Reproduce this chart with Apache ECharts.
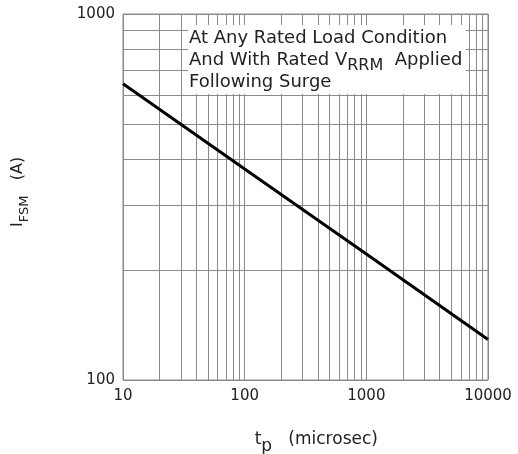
<!DOCTYPE html>
<html>
<head>
<meta charset="utf-8">
<script src="https://cdn.jsdelivr.net/npm/echarts@6/dist/echarts.min.js"></script>
<style>
  html, body { margin: 0; padding: 0; background: #fff; }
  #chart { width: 518px; height: 454px; }
</style>
</head>
<body>
<div id="chart"></div>
<script>
// pulse width (microsec) and peak surge current (A)
var tp = [10, 100, 1000, 10000];
var ifsm = [645, 377, 221, 129];
// log grid lines between the decades
var minorX = [20, 30, 40, 50, 60, 70, 80, 90, 200, 300, 400, 500, 600, 700, 800, 900, 2000, 3000, 4000, 5000, 6000, 7000, 8000, 9000];
var minorY = [200, 300, 400, 500, 600, 700, 800, 900];
var noteLines = ['At Any Rated Load Condition', 'And With Rated V', 'RRM', 'Applied', 'Following Surge'];

var gridColor = '#8a8a8a';
var font = 'DejaVu Sans';

var myChart = echarts.init(document.getElementById('chart'));

var gridMarks = [];
minorX.forEach(function (v) { gridMarks.push({ xAxis: v }); });
minorY.forEach(function (v) { gridMarks.push({ yAxis: v }); });

var option = {
  animation: false,
  grid: {
    left: 123, right: 30, top: 14, bottom: 74,
    outerBoundsMode: 'none',
    show: true, borderColor: gridColor, borderWidth: 1
  },
  xAxis: {
    type: 'log', logBase: 10, min: 10, max: 10000,
    name: '    {a|t}{b|p}   {a|(microsec)}',
    nameLocation: 'middle', nameGap: 44,
    nameTextStyle: {
      fontSize: 17, fontFamily: font,
      rich: {
        a: { fontFamily: font, fontSize: 17, color: '#222' },
        b: { fontFamily: font, fontSize: 17, color: '#222', padding: [14, 0, 0, 0] }
      }
    },
    axisLine: { show: false },
    axisTick: { show: false },
    axisLabel: { fontFamily: font, fontSize: 15, color: '#222', margin: 9, formatter: function (v) { return String(v); } },
    splitLine: { show: true, lineStyle: { color: gridColor, width: 1 } }
  },
  yAxis: {
    type: 'log', logBase: 10, min: 100, max: 1000,
    name: '  {a|I}{b|FSM}   {a|(A)}',
    nameLocation: 'middle', nameGap: 92,
    nameTextStyle: {
      fontSize: 16, fontFamily: font,
      rich: {
        a: { fontFamily: font, fontSize: 16, color: '#222' },
        b: { fontFamily: font, fontSize: 13, color: '#222', padding: [14, 0, 0, 0] }
      }
    },
    axisLine: { show: false },
    axisTick: { show: false },
    axisLabel: { fontFamily: font, fontSize: 15, color: '#222', margin: 8, formatter: function (v) { return String(v); } },
    splitLine: { show: true, lineStyle: { color: gridColor, width: 1 } }
  },
  graphic: [{
    type: 'rect',
    left: 188, top: 25, z: 100,
    shape: { x: 0, y: 0, width: 278, height: 69 },
    style: { fill: '#fff' }
  }, {
    type: 'text',
    left: 189, top: 27, z: 101,
    style: {
      text: noteLines[0] + '\n' + noteLines[1] + '{s|' + noteLines[2] + '}  ' + noteLines[3] + '\n' + noteLines[4],
      font: '18px "' + font + '"',
      fill: '#222',
      lineHeight: 22,
      rich: {
        s: { fontFamily: font, fontSize: 16, fill: '#222', padding: [12, 0, 0, 0] }
      }
    }
  }],
  series: [{
    type: 'line',
    data: [],
    z: 1,
    markLine: {
      silent: true,
      symbol: 'none',
      label: { show: false },
      lineStyle: { color: gridColor, width: 1, type: 'solid' },
      data: gridMarks
    }
  }, {
    type: 'line',
    z: 5,
    data: tp.map(function (t, i) { return [t, ifsm[i]]; }),
    showSymbol: false,
    lineStyle: { color: '#000', width: 3 }
  }]
};

myChart.setOption(option);
</script>
</body>
</html>
